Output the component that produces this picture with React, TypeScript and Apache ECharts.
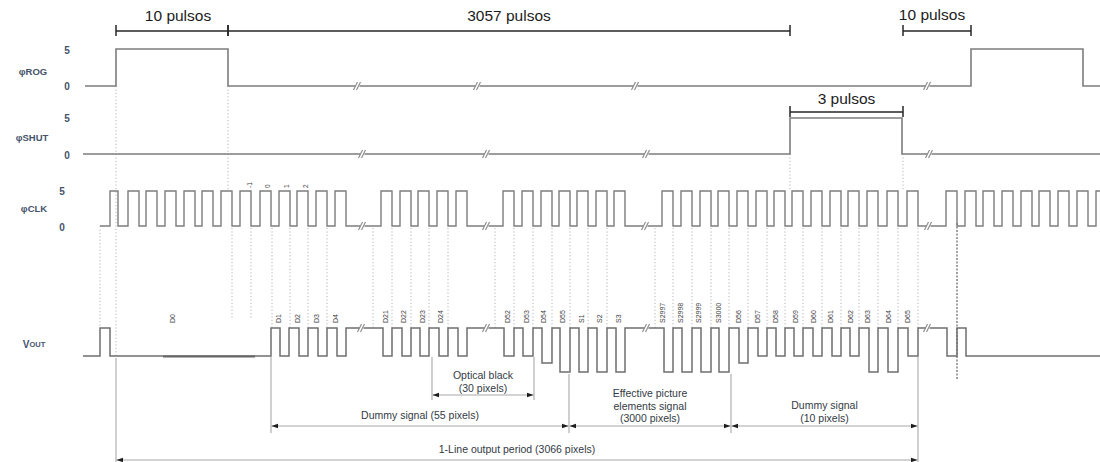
import { useEffect, useRef } from "react";
import * as echarts from "echarts";

const FONT = '"Liberation Sans", Arial, Helvetica, sans-serif';

// ================= DATA (time axis in diagram units) =================
const rogEdges = [116, 228, 971, 1083];
const rogBreaks = [358, 478, 636, 928];
const shutEdges = [790, 902];
const shutBreaks = [363, 487, 647, 930];

// clock pulses: [rise, fall]
const clkPulses: number[][] = [
  [110, 118], [128, 139], [146, 157], [165, 176], [184, 195], [202, 213], [221, 232],
  [240, 251], [260, 271], [279, 290], [297, 308], [316, 327], [335, 346],
  [381, 392], [400, 411], [418, 429], [437, 448], [456, 467],
  [503, 514], [522, 533], [541, 552], [559, 570], [577, 588], [596, 607], [614, 625],
  [662, 673], [681, 692], [700, 711], [718, 729], [737, 748], [756, 767], [774, 785],
  [792, 803], [811, 822], [830, 841], [848, 859], [867, 878], [887, 898], [907, 918],
  [946, 957], [965, 976], [983, 994], [1002, 1013], [1021, 1032], [1039, 1050],
  [1058, 1069], [1077, 1088], [1096, 1107],
];
const clkBreaks = [363, 487, 646, 929];
const clkNumbers: [string, number][] = [["-1", 249], ["0", 267], ["1", 286], ["2", 305]];

// Vout: lead pulse, rise to reset level, dips [start, end, level(1 black, 2 mid, 3 signal)], final fall
const voutLead = [100, 110];
const voutRise = 271;
const voutFall = 966;
const voutDips: number[][] = [
  [280, 289, 1], [299, 308, 1], [318, 327, 1], [337, 346, 1],
  [383, 392, 1], [402, 411, 1], [420, 429, 1], [439, 448, 1], [458, 467, 1],
  [504, 514, 1], [523, 533, 1], [542, 552, 2], [560, 570, 3], [579, 588, 3], [597, 607, 3], [616, 625, 3],
  [664, 673, 3], [682, 692, 3], [701, 711, 3], [719, 729, 3], [739, 748, 2],
  [758, 767, 1], [776, 785, 1], [794, 803, 1], [813, 822, 1], [832, 841, 1], [850, 859, 1],
  [869, 878, 3], [888, 898, 3], [908, 918, 1],
  [947, 957, 1],
];
const voutD0Span = [163, 255];
const voutBreaks = [362, 487, 647, 928];
const pixelLabels: [string, number][] = [
  ["D0", 172], ["D1", 278], ["D2", 297], ["D3", 316], ["D4", 335],
  ["D21", 385], ["D22", 403], ["D23", 422], ["D24", 440],
  ["D52", 507], ["D53", 526], ["D54", 543], ["D55", 562], ["S1", 581], ["S2", 599], ["S3", 618],
  ["S2997", 662], ["S2998", 680], ["S2999", 698], ["S3000", 718],
  ["D56", 738], ["D57", 757], ["D58", 775], ["D59", 795], ["D60", 813],
  ["D61", 830], ["D62", 850], ["D63", 867], ["D64", 888], ["D65", 907],
];
// pixel boundary times (dotted guides from CLK to Vout)
const pixelBoundaries = [
  272, 290, 308, 327,
  373, 392, 411, 429, 448,
  495, 514, 533, 552, 570, 588, 607,
  655, 673, 692, 711, 729, 748, 767, 785, 803, 822, 841, 859, 878, 898, 918,
];
const preBoundaries = [232, 251];

// Period annotations
const topSpans: [string, number, number][] = [
  ["10 pulsos", 116, 228],
  ["3057 pulsos", 228, 790],
  ["10 pulsos", 903, 971],
];
const shutSpan: [string, number, number] = ["3 pulsos", 790, 903];

// Bottom pixel-count annotations: [text lines, from, to]
const opticalBlack: [string[], number, number] = [["Optical black", "(30 pixels)"], 432, 534];
const pixelSpans: [string[], number, number][] = [
  [["Dummy signal (55 pixels)"], 271, 569],
  [["Effective picture", "elements signal", "(3000 pixels)"], 569, 731],
  [["Dummy signal", "(10 pixels)"], 731, 918],
];
const lineSpan: [string[], number, number] = [["1-Line output period (3066 pixels)"], 116, 918];

// ================= LAYOUT =================
const W = 1100;
const H = 462;
const ROG = { lo: 86, hi: 49, x0: 85 };
const SHUT = { lo: 154, hi: 118, x0: 83 };
const CLK = { lo: 226, hi: 191, x0: 100 };
const VOUT = { hi: 328, lo: 356, x0: 83 };
const VOUT_DEPTH: Record<number, number> = { 1: 28, 2: 35, 3: 44 };
const WAVE = "#7d7d7d";
const LABEL = "#46536a";

function digital(x0: number, edges: number[], lo: number, hi: number) {
  const pts: number[][] = [[x0, lo]];
  let lvl = lo;
  for (const e of edges) {
    pts.push([e, lvl]);
    lvl = lvl === lo ? hi : lo;
    pts.push([e, lvl]);
  }
  pts.push([W, lvl]);
  return pts;
}

function clockPoints() {
  const pts: number[][] = [[CLK.x0, CLK.lo]];
  for (const [r, f] of clkPulses) {
    pts.push([r, CLK.lo], [r, CLK.hi]);
    if (f >= W) {
      pts.push([W, CLK.hi]);
      return pts;
    }
    pts.push([f, CLK.hi], [f, CLK.lo]);
  }
  pts.push([W, CLK.lo]);
  return pts;
}

function voutPoints() {
  const hi = VOUT.hi;
  const lo = VOUT.lo;
  const pts: number[][] = [
    [VOUT.x0, lo], [voutLead[0], lo], [voutLead[0], hi], [voutLead[1], hi], [voutLead[1], lo],
    [voutRise, lo], [voutRise, hi],
  ];
  for (const [s, e, l] of voutDips) {
    const y = hi + VOUT_DEPTH[l];
    pts.push([s, hi], [s, y], [e, y], [e, hi]);
  }
  pts.push([voutFall, hi], [voutFall, lo], [W, lo]);
  return pts;
}

function idx(arr: unknown[]) {
  return arr.map((_, i) => [i, 0]);
}

function lineSeries(data: number[][], width = 1.6, color = WAVE) {
  return {
    type: "line",
    data,
    showSymbol: false,
    symbol: "none",
    silent: true,
    animation: false,
    lineStyle: { color, width, join: "miter" },
    z: 3,
  };
}

export default function App() {
  const ref = useRef<HTMLDivElement>(null);

  useEffect(() => {
    if (!ref.current) return;
    const chart = echarts.init(ref.current, undefined, { renderer: "svg" });

    const breaks: number[][] = [
      ...rogBreaks.map((x) => [x, ROG.lo]),
      ...shutBreaks.map((x) => [x, SHUT.lo]),
      ...clkBreaks.map((x) => [x, CLK.lo]),
      ...voutBreaks.map((x) => [x, VOUT.hi]),
    ];

    const dotted: number[][] = [
      [rogEdges[0], ROG.lo, VOUT.lo, 0],
      [rogEdges[1], ROG.lo, CLK.hi, 0],
      [shutEdges[0], SHUT.lo, CLK.hi, 0],
      [shutEdges[1] + 1, SHUT.lo, CLK.hi, 0],
      [CLK.x0, CLK.lo, VOUT.hi, 0],
      ...preBoundaries.map((x) => [x, CLK.lo + 2, 318, 0]),
      ...pixelBoundaries.map((x) => [x, CLK.lo + 2, VOUT.hi, 0]),
      [957, CLK.lo - 3, 380, 1],
    ];

    const solids: number[][] = [
      [lineSpan[1], VOUT.lo + 2, 465],
      [pixelSpans[0][1], VOUT.lo + 1, 433],
      [opticalBlack[1], VOUT.lo + 1, 400],
      [opticalBlack[2], VOUT.lo + 1, 400],
      [pixelSpans[1][1], 374, 433],
      [pixelSpans[2][1], 374, 433],
      [lineSpan[2], VOUT.lo + 1, 465],
    ];

    const arrows: [string[], number, number, number, number][] = [
      [opticalBlack[0], opticalBlack[1], opticalBlack[2], 395, 375],
      [pixelSpans[0][0], pixelSpans[0][1], pixelSpans[0][2], 426, 415],
      [pixelSpans[1][0], pixelSpans[1][1], pixelSpans[1][2], 426, 393],
      [pixelSpans[2][0], pixelSpans[2][1], pixelSpans[2][2], 426, 405],
      [lineSpan[0], lineSpan[1], lineSpan[2], 460, 449],
    ];

    const dims: [string, number, number, number, number][] = [
      ...topSpans.map(([t, a, b], i) => [t, a, b, 31, i === 2 ? 14 : 15] as [string, number, number, number, number]),
      [shutSpan[0], shutSpan[1], shutSpan[2], 112, 98],
    ];

    const rowTexts: [string, number, number, number][] = [
      ["\u03c6ROG", 33, 71, 0], ["5", 67, 50, 1], ["0", 67, 86, 1],
      ["\u03c6SHUT", 32, 137, 0], ["5", 67, 118, 1], ["0", 67, 155, 1],
      ["\u03c6CLK", 34, 208, 0], ["5", 62, 191, 1], ["0", 62, 227, 1],
    ];

    const rotLabels: [string, number, number, number][] = [
      ...pixelLabels.map(([t, x]) => [t, x, 323, 7] as [string, number, number, number]),
      ...clkNumbers.map(([t, x]) => [t, x, 188, 6.5] as [string, number, number, number]),
    ];

    const option: any = {
      animation: false,
      backgroundColor: "#ffffff",
      grid: { left: 0, right: 0, top: 0, bottom: 0, containLabel: false },
      xAxis: { type: "value", min: 0, max: W, show: false },
      yAxis: { type: "value", min: 0, max: H, inverse: true, show: false },
      series: [
        lineSeries(digital(ROG.x0, rogEdges, ROG.lo, ROG.hi)),
        lineSeries(digital(SHUT.x0, shutEdges, SHUT.lo, SHUT.hi)),
        lineSeries(clockPoints(), 1.4),
        lineSeries(voutPoints(), 1.5, "#6f6f6f"),
        lineSeries([[voutD0Span[0], VOUT.lo + 0.5], [voutD0Span[1], VOUT.lo + 0.5]], 2.2, "#666666"),
        {
          // axis break marks
          type: "custom",
          silent: true,
          z: 5,
          data: breaks,
          renderItem: (_p: any, api: any) => {
            const c = api.coord([api.value(0), api.value(1)]);
            const [x, y] = c;
            return {
              type: "group",
              children: [
                { type: "rect", shape: { x: x - 2.5, y: y - 2, width: 4, height: 4 }, style: { fill: "#fff" } },
                { type: "line", shape: { x1: x - 4.5, y1: y + 4, x2: x - 0.5, y2: y - 4 }, style: { stroke: "#8a8a8a", lineWidth: 1.1 } },
                { type: "line", shape: { x1: x - 1.5, y1: y + 4, x2: x + 2.5, y2: y - 4 }, style: { stroke: "#8a8a8a", lineWidth: 1.1 } },
              ],
            };
          },
        },
        {
          // dotted timing guides
          type: "custom",
          silent: true,
          z: 2,
          data: dotted,
          renderItem: (_p: any, api: any) => {
            const p1 = api.coord([api.value(0), api.value(1)]);
            const p2 = api.coord([api.value(0), api.value(2)]);
            const heavy = api.value(3) === 1;
            return {
              type: "line",
              shape: { x1: p1[0], y1: p1[1], x2: p2[0], y2: p2[1] },
              style: { stroke: heavy ? "#8a8a8a" : "#b4b4b4", lineWidth: heavy ? 1.6 : 1, lineDash: heavy ? [2, 1.5] : [1.2, 2.2] },
            };
          },
        },
        {
          // solid extension lines
          type: "custom",
          silent: true,
          z: 2,
          data: solids,
          renderItem: (_p: any, api: any) => {
            const p1 = api.coord([api.value(0), api.value(1)]);
            const p2 = api.coord([api.value(0), api.value(2)]);
            return {
              type: "line",
              shape: { x1: p1[0], y1: p1[1], x2: p2[0], y2: p2[1] },
              style: { stroke: "#b0b0b0", lineWidth: 1.2 },
            };
          },
        },
        {
          // dimension arrows with captions
          type: "custom",
          silent: true,
          z: 4,
          data: idx(arrows),
          renderItem: (p: any, api: any) => {
            const [lines, a, b, y, ty] = arrows[p.dataIndex];
            const p1 = api.coord([a, y]);
            const p2 = api.coord([b, y]);
            const mid = api.coord([(a + b) / 2, ty]);
            const L = 7;
            const h = 2.2;
            const children: any[] = [
              { type: "line", shape: { x1: p1[0], y1: p1[1], x2: p2[0], y2: p2[1] }, style: { stroke: "#c4c4c4", lineWidth: 1.3 } },
              { type: "polygon", shape: { points: [[p1[0] + 0.5, p1[1]], [p1[0] + L, p1[1] - h], [p1[0] + L, p1[1] + h]] }, style: { fill: "#1e1e1e" } },
              { type: "polygon", shape: { points: [[p2[0] - 0.5, p2[1]], [p2[0] - L, p2[1] - h], [p2[0] - L, p2[1] + h]] }, style: { fill: "#1e1e1e" } },
            ];
            lines.forEach((t, i) => {
              children.push({
                type: "text",
                x: mid[0],
                y: mid[1] + i * 12.5,
                style: { text: t, fontSize: 10.5, fontFamily: FONT, fill: "#333a44", align: "center", verticalAlign: "middle" },
              });
            });
            return { type: "group", children };
          },
        },
        {
          // top pulse-count dimension bars
          type: "custom",
          silent: true,
          z: 4,
          data: idx(dims),
          renderItem: (p: any, api: any) => {
            const [t, a, b, y, ty] = dims[p.dataIndex];
            const p1 = api.coord([a, y]);
            const p2 = api.coord([b, y]);
            const mid = api.coord([(a + b) / 2 + (p.dataIndex === 0 ? 6 : p.dataIndex === 2 ? -5 : 0), ty]);
            return {
              type: "group",
              children: [
                { type: "line", shape: { x1: p1[0], y1: p1[1], x2: p2[0], y2: p2[1] }, style: { stroke: "#262626", lineWidth: 1.5 } },
                { type: "line", shape: { x1: p1[0], y1: p1[1] - 6, x2: p1[0], y2: p1[1] + 5 }, style: { stroke: "#262626", lineWidth: 1.5 } },
                { type: "line", shape: { x1: p2[0], y1: p2[1] - 6, x2: p2[0], y2: p2[1] + 5 }, style: { stroke: "#262626", lineWidth: 1.5 } },
                { type: "text", x: mid[0], y: mid[1], style: { text: t, fontSize: 15.5, fontFamily: FONT, fill: "#1c1c1c", align: "center", verticalAlign: "middle" } },
              ],
            };
          },
        },
        {
          // row names and level ticks
          type: "custom",
          silent: true,
          z: 4,
          data: idx(rowTexts),
          renderItem: (p: any, api: any) => {
            const [t, x, y, k] = rowTexts[p.dataIndex];
            const c = api.coord([x, y]);
            return {
              type: "text",
              x: c[0],
              y: c[1],
              style: {
                text: t,
                fontSize: k === 0 ? 9.5 : 10,
                fontWeight: "bold",
                fontFamily: FONT,
                fill: LABEL,
                align: "center",
                verticalAlign: "middle",
              },
            };
          },
        },
        {
          // Vout row name (small caps)
          type: "custom",
          silent: true,
          z: 4,
          data: [[34, 344]],
          renderItem: (_p: any, api: any) => {
            const c = api.coord([api.value(0), api.value(1)]);
            return {
              type: "text",
              x: c[0],
              y: c[1],
              style: {
                text: "{a|V}{b|OUT}",
                fontFamily: FONT,
                fill: LABEL,
                align: "center",
                verticalAlign: "middle",
                rich: {
                  a: { fontSize: 10, fontWeight: "bold", fontFamily: FONT, fill: LABEL },
                  b: { fontSize: 7.5, fontWeight: "bold", fontFamily: FONT, fill: LABEL },
                },
              },
            };
          },
        },
        {
          // rotated pixel / clock-count labels
          type: "custom",
          silent: true,
          z: 4,
          data: idx(rotLabels),
          renderItem: (p: any, api: any) => {
            const [t, x, y, fs] = rotLabels[p.dataIndex];
            const c = api.coord([x, y]);
            return {
              type: "text",
              x: c[0],
              y: c[1],
              rotation: Math.PI / 2,
              style: { text: t, fontSize: fs, fontFamily: FONT, fill: "#3e3e3e", align: "left", verticalAlign: "middle" },
            };
          },
        },
      ],
    };

    chart.setOption(option);
    return () => {
      chart.dispose();
    };
  }, []);

  return (
    <div
      ref={ref}
      style={{ position: "fixed", left: 0, top: 0, width: W, height: H, background: "#ffffff" }}
    />
  );
}
